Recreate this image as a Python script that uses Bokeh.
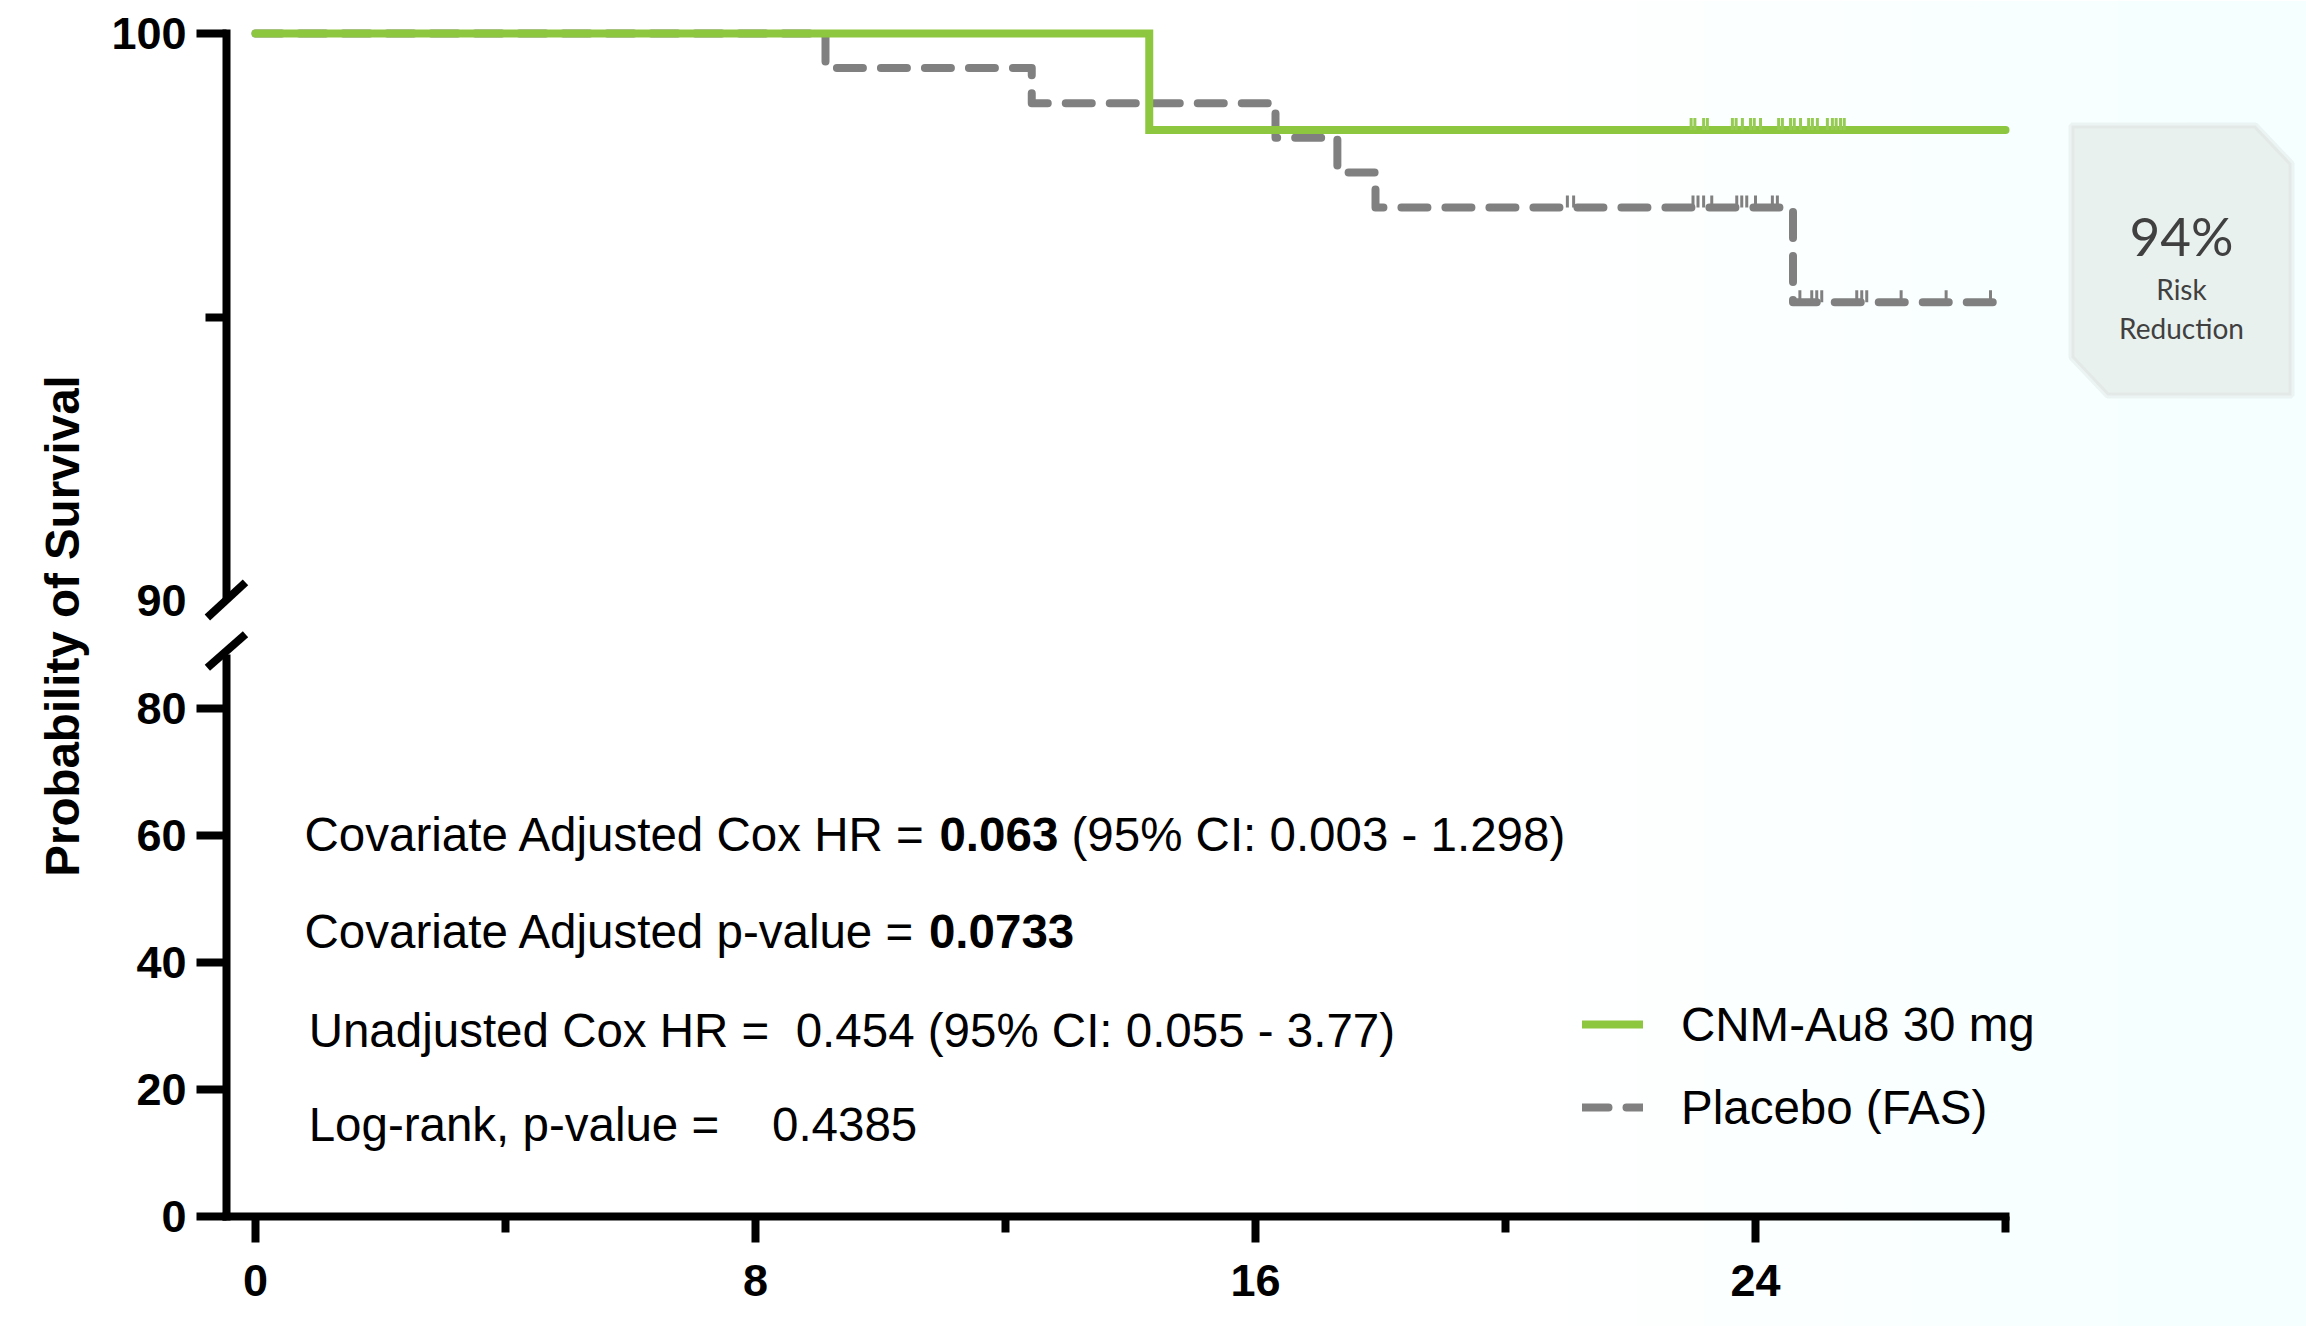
import re
from bokeh.plotting import figure
from bokeh.models import (Range1d, LinearAxis, FixedTicker, Legend, LegendItem,
                          ColumnDataSource, Label, PolyAnnotation, BoxAnnotation)
from bokeh.core.properties import value
from bokeh.embed import file_html
from bokeh.resources import INLINE

# ---------------- data ----------------
x_major_ticks = [0, 8, 16, 24]
x_minor_ticks = [4, 12, 20, 28]
top_major_ticks = [100]
top_minor_ticks = [95]
top_label_ticks = [90]
low_major_ticks = [0, 20, 40, 60, 80]

series_names = ["CNM-Au8 30 mg", "Placebo (FAS)"]

cnm_weeks = [0, 14.3, 28.0]
cnm_surv = [100.0, 98.30, 98.30]
cnm_censor_weeks = [22.97, 23.03, 23.17, 23.23, 23.63, 23.69, 23.79, 23.92, 23.98,
                    24.08, 24.37, 24.43, 24.56, 24.62, 24.72, 24.85, 24.91, 24.99,
                    25.15, 25.23, 25.29, 25.36, 25.42]

placebo_weeks = [0, 9.12, 12.42, 16.32, 17.31, 17.92, 24.6, 28.0]
placebo_surv = [100.0, 99.39, 98.77, 98.16, 97.55, 96.93, 95.26, 95.26]
placebo_censor_weeks = [20.99, 21.09, 23.0, 23.08, 23.17, 23.3, 23.7, 23.78, 23.86,
                        24.0, 24.27, 24.35, 24.71, 24.9, 24.98, 25.06, 25.62, 25.7,
                        25.78, 26.33, 27.05, 27.76]

stat_rows = [
    [("Covariate Adjusted Cox HR = ", "normal"), ("0.063", "bold"),
     (" (95% CI: 0.003 - 1.298)", "normal")],
    [("Covariate Adjusted p-value = ", "normal"), ("0.0733", "bold")],
    [("Unadjusted Cox HR =  0.454 (95% CI: 0.055 - 3.77)", "normal")],
    [("Log-rank, p-value =    0.4385", "normal")],
]
box_texts = ["94%", "Risk", "Reduction"]
y_title = "Probability of Survival"


def surv_at(weeks, surv, t):
    v = surv[0]
    for w, s in zip(weeks, surv):
        if w <= t:
            v = s
    return v


# ---------------- geometry (pixels of the 2306x1326 canvas) ----------------
W, H = 2306, 1326
XAX_PX = 1216                      # pixel row of the x axis
X0PX, PXW = 255.0, 62.5            # week 0 pixel, px per week
Y100, PXU = 33.0, 56.7             # top segment: px of 100 %, px per %
PXL = 6.35                         # bottom segment: px per %

x_start = -X0PX / PXW
x_end = (W - X0PX) / PXW
top_end = 100 + Y100 / PXU
top_start = 100 - (H - Y100) / PXU
low_start = -(H - XAX_PX) / PXL
low_end = XAX_PX / PXL
AX = (226 - X0PX) / PXW            # x (weeks) where y-axis sits
XAX_LOC = 100 - (XAX_PX - Y100) / PXU   # x-axis location in top-range units

GREEN = "#8DC63F"
GREY = "#808080"
FONT = "Liberation Sans"

p = figure(width=W, height=H, output_backend="svg", toolbar_location=None,
           x_range=Range1d(x_start, x_end), y_range=Range1d(top_start, top_end),
           x_axis_location=None, y_axis_location=None, min_border_left=0,
           min_border_right=0, min_border_top=0, min_border_bottom=0)
p.extra_y_ranges = {"low": Range1d(low_start, low_end)}
p.grid.visible = False
p.outline_line_color = None
p.background_fill_color = "white"
p.border_fill_color = "white"

# subtle background gradient on the right
for i in range(10):
    p.add_layout(BoxAnnotation(left=21.0 + i * 1.1, right=x_end, fill_color="#E4ECF2",
                               fill_alpha=0.022, line_alpha=0, level="underlay"))


def style_axis(ax, size="45px"):
    ax.axis_line_width = 8
    ax.axis_line_color = "black"
    ax.major_tick_line_width = 8
    ax.minor_tick_line_width = 8
    ax.major_tick_in = 0
    ax.minor_tick_in = 0
    ax.major_label_text_font = FONT
    ax.major_label_text_font_style = "bold"
    ax.major_label_text_font_size = size
    ax.major_label_text_color = "black"


# x axis
xa = LinearAxis(fixed_location=XAX_LOC, bounds=(AX - 0.065, 28.065),
                ticker=FixedTicker(ticks=x_major_ticks, minor_ticks=x_minor_ticks))
style_axis(xa)
xa.major_tick_out = 26
xa.minor_tick_out = 16
xa.major_label_standoff = 22
p.add_layout(xa, "below")

# top y axis (90-100)
ax_top = LinearAxis(fixed_location=AX, bounds=(90, 100.07),
                    ticker=FixedTicker(ticks=top_major_ticks, minor_ticks=top_minor_ticks))
style_axis(ax_top)
ax_top.major_tick_out = 30
ax_top.minor_tick_out = 21
ax_top.major_label_standoff = 10
p.add_layout(ax_top, "left")

ax_90 = LinearAxis(fixed_location=AX, bounds=(90, 100),
                   ticker=FixedTicker(ticks=top_label_ticks, minor_ticks=[]))
style_axis(ax_90)
ax_90.axis_line_alpha = 0
ax_90.major_tick_line_alpha = 0
ax_90.major_tick_out = 30
ax_90.minor_tick_out = 0
ax_90.major_label_standoff = 10
p.add_layout(ax_90, "left")

# bottom y axis (0-80)
ax_low = LinearAxis(fixed_location=AX, y_range_name="low", bounds=(-0.65, 88.5),
                    ticker=FixedTicker(ticks=low_major_ticks, minor_ticks=[]))
style_axis(ax_low)
ax_low.major_tick_out = 30
ax_low.minor_tick_out = 0
ax_low.major_label_standoff = 10
p.add_layout(ax_low, "left")

# axis title
ax_title = LinearAxis(fixed_location=AX, bounds=(85.5, 93.6),
                      ticker=FixedTicker(ticks=[], minor_ticks=[]))
ax_title.axis_line_alpha = 0
ax_title.major_tick_out = 0
ax_title.minor_tick_out = 0
ax_title.major_label_text_alpha = 0
ax_title.axis_label = y_title
ax_title.axis_label_standoff = 138
ax_title.axis_label_text_font = FONT
ax_title.axis_label_text_font_style = "bold"
ax_title.axis_label_text_font_size = "47.5px"
ax_title.axis_label_text_color = "black"
p.add_layout(ax_title, "left")

# axis break marks
p.segment(x0=[-0.77], y0=[89.70], x1=[-0.16], y1=[90.32], line_color="black",
          line_width=8, line_cap="butt")
p.segment(x0=[-0.77], y0=[86.4], x1=[-0.16], y1=[91.7], line_color="black",
          line_width=8, line_cap="butt", y_range_name="low")

# survival curves
r_pla = p.step(placebo_weeks, placebo_surv, mode="after", line_color=GREY, line_width=8,
               line_dash="26 18", line_cap="round", line_join="round")
pla_cy = [surv_at(placebo_weeks, placebo_surv, t) for t in placebo_censor_weeks]
p.ray(x=placebo_censor_weeks, y=pla_cy, length=12, length_units="screen", angle=90,
      angle_units="deg", line_color=GREY, line_width=3)

r_cnm = p.step(cnm_weeks, cnm_surv, mode="after", line_color=GREEN, line_width=8,
               line_cap="round", line_join="miter")
cnm_cy = [surv_at(cnm_weeks, cnm_surv, t) for t in cnm_censor_weeks]
p.ray(x=cnm_censor_weeks, y=cnm_cy, length=12, length_units="screen", angle=90,
      angle_units="deg", line_color="#95CB52", line_width=3)

# legend
legend = Legend(items=[LegendItem(label=series_names[0], renderers=[r_cnm]),
                       LegendItem(label=series_names[1], renderers=[r_pla])],
                location=(1582, H - 1137), orientation="vertical",
                glyph_width=61, glyph_height=60, label_height=60, label_standoff=38,
                spacing=23, padding=0, margin=0,
                label_text_font=FONT, label_text_font_size="47.5px",
                label_text_color="black", background_fill_alpha=0, border_line_alpha=0)
p.add_layout(legend)

# statistics text
AW = {' ': 278, '(': 333, ')': 333, '%': 889, '-': 333, '.': 278, ',': 278, ':': 278,
      '=': 584, 'A': 667, 'C': 722, 'H': 722, 'I': 278, 'L': 556, 'R': 722, 'U': 722,
      'a': 556, 'd': 556, 'e': 556, 'g': 556, 'i': 222, 'j': 222, 'k': 500, 'l': 222,
      'n': 556, 'o': 556, 'p': 556, 'r': 333, 's': 500, 't': 278, 'u': 556, 'v': 500,
      'x': 500}
FS = 47.5


def tw(s):
    return sum(AW.get(c, 556) for c in s) * FS / 1000.0


stat_x = [0.785, 0.785, 0.85, 0.85]
stat_y = [60.1, 44.9, 29.3, 14.5]
tx, ty, tt, to, tf = [], [], [], [], []
for row, x, y in zip(stat_rows, stat_x, stat_y):
    off = 0.0
    for txt, style in row:
        for m in re.finditer(r'\S+(?: \S+)*', txt):
            tx.append(x)
            ty.append(y)
            tt.append(m.group())
            to.append(off + tw(txt[:m.start()]))
            tf.append(style)
        off += tw(txt)
src = ColumnDataSource(dict(x=tx, y=ty, text=tt, xo=to, fs=tf))
p.text(x="x", y="y", text="text", x_offset="xo", text_font_style="fs", source=src,
       y_range_name="low", text_font=value(FONT), text_font_size=value("47.5px"),
       text_baseline="middle", text_align="left", text_color="black")

# risk reduction box
bx = [29.056, 32.0, 32.576, 32.576, 29.632, 29.056]
by = [98.377, 98.377, 97.707, 93.616, 93.616, 94.286]
p.add_layout(PolyAnnotation(xs=bx, ys=by, fill_color="#E9F1EE", fill_alpha=1,
                            line_color="#D4D7D7", line_width=6))
for txt, yy, sz in zip(box_texts, [96.44, 95.50, 94.81], ["53px", "28px", "28px"]):
    p.add_layout(Label(x=30.816, y=yy, text=txt, text_align="center",
                       text_baseline="middle", text_font="Lato", text_font_size=sz,
                       text_color="#404040"))

open("out.html", "w").write(file_html(p, INLINE))
